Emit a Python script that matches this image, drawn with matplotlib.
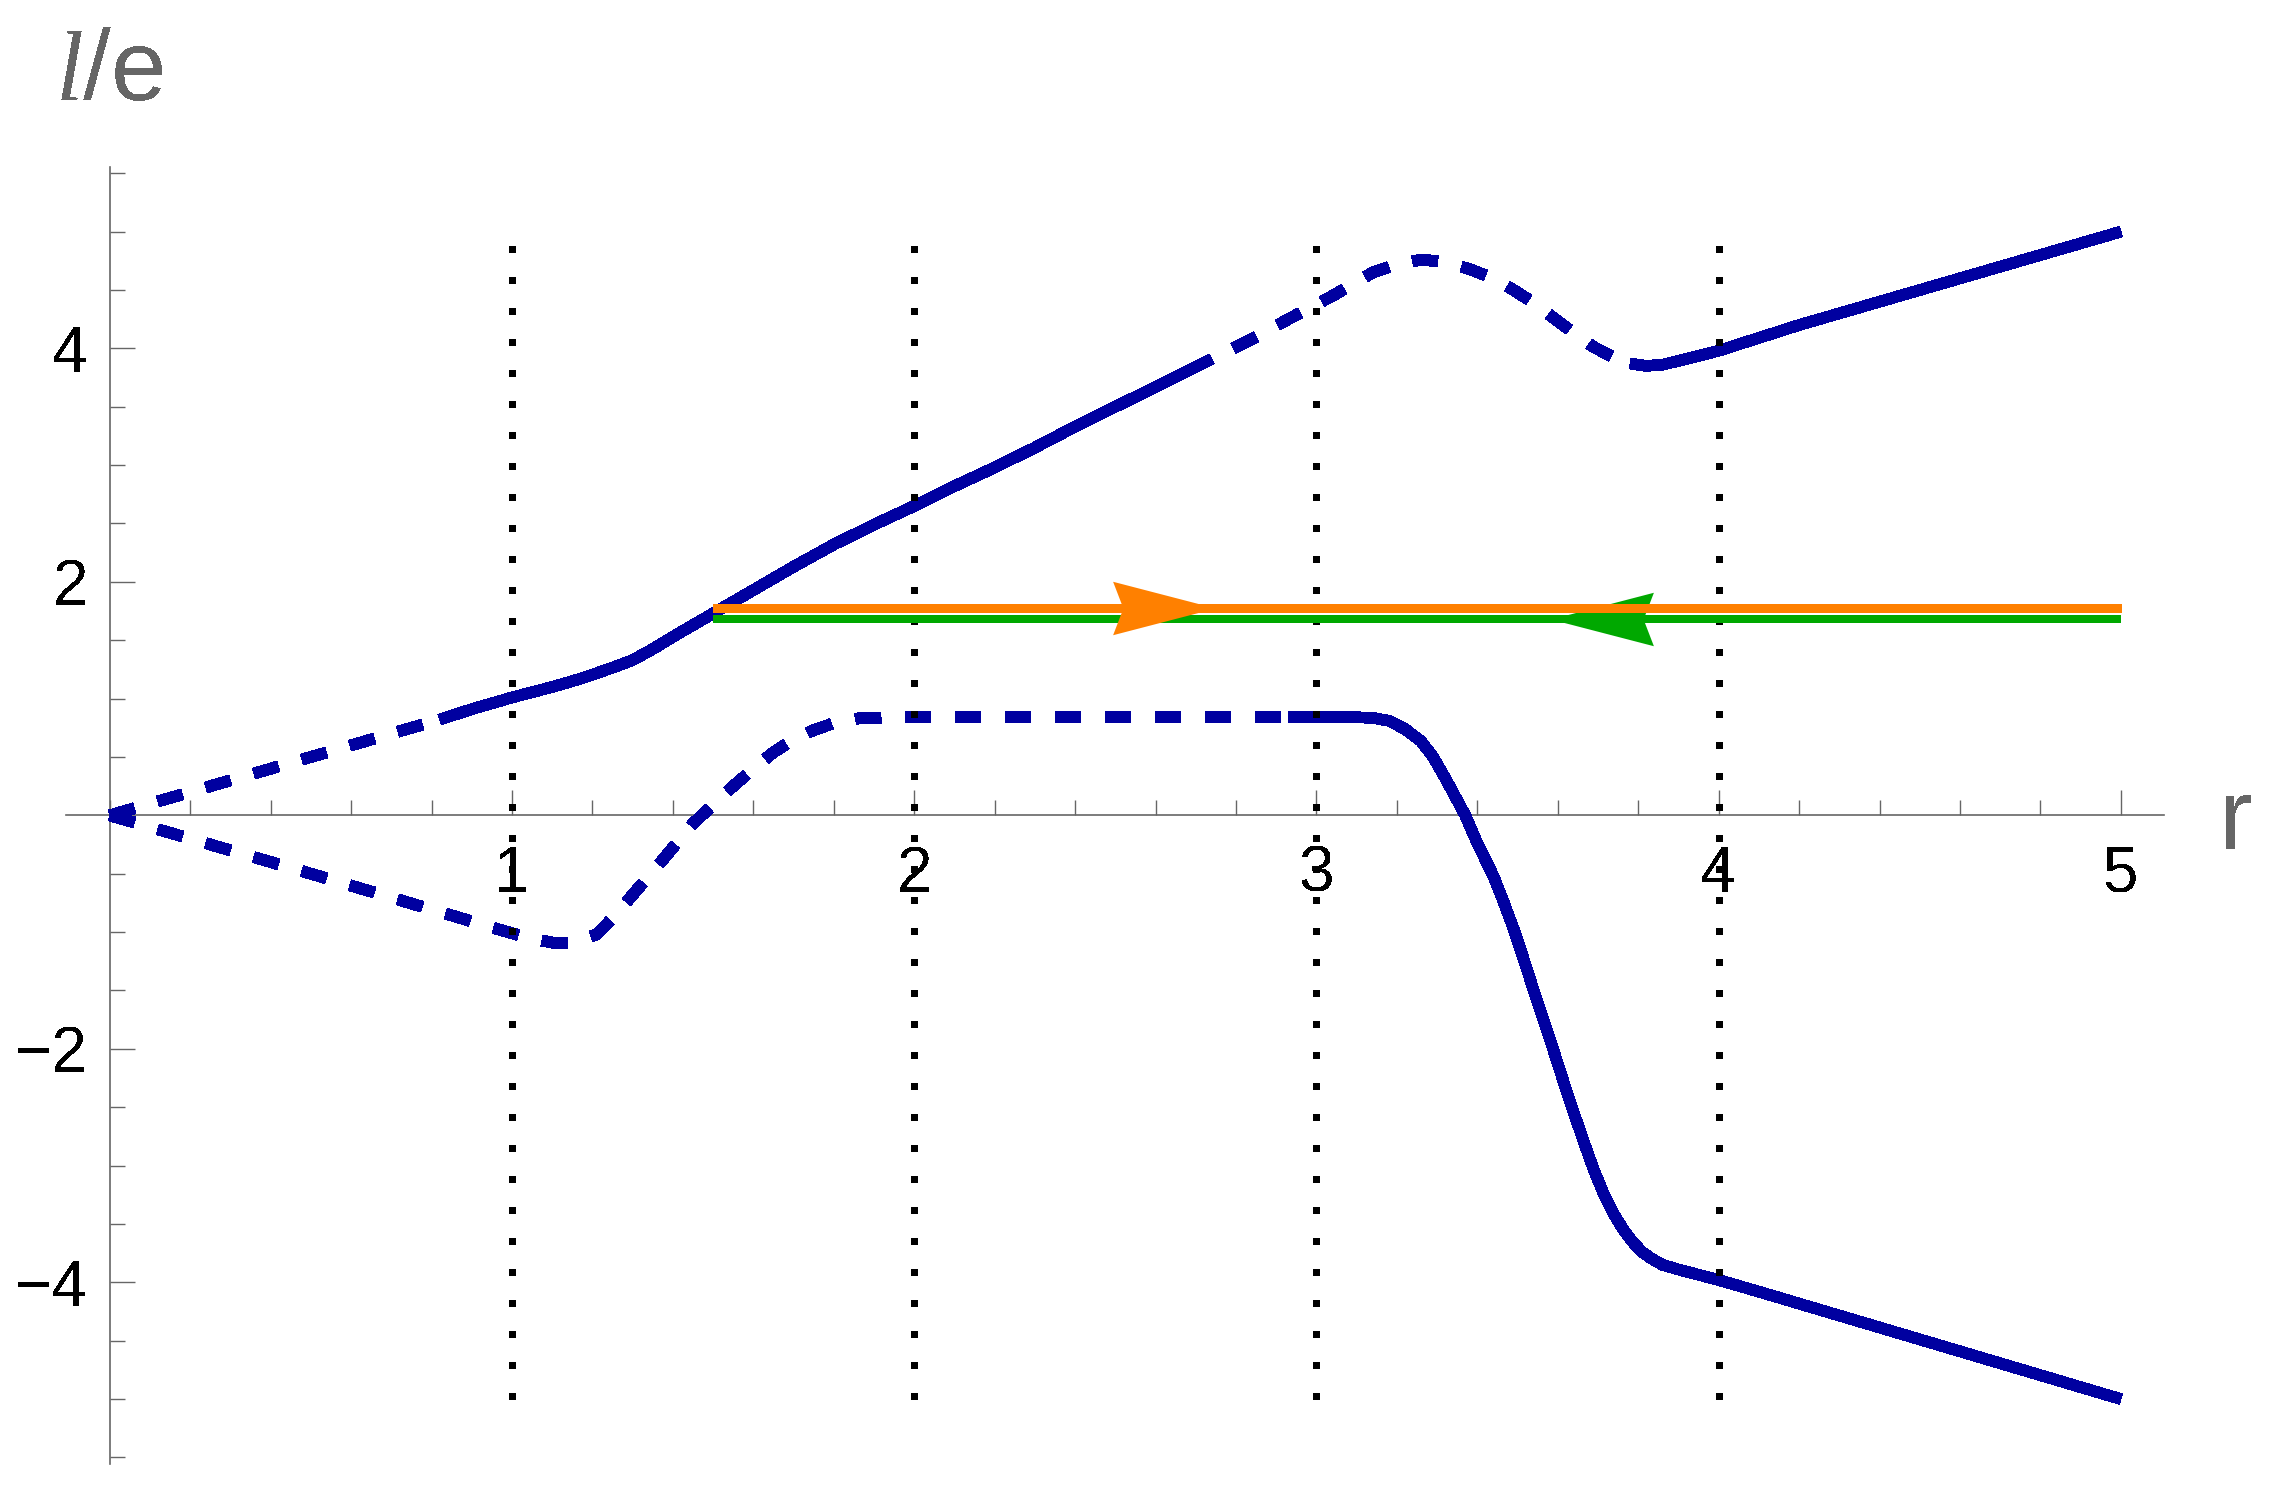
import matplotlib
matplotlib.use("Agg")
import matplotlib.pyplot as plt
from matplotlib.path import Path
from matplotlib.ticker import FixedLocator, MultipleLocator

plt.rcParams['font.family'] = ['Liberation Sans', 'DejaVu Sans']
plt.rcParams['mathtext.fontset'] = 'custom'
plt.rcParams['mathtext.it'] = 'Liberation Serif:italic'
plt.rcParams['mathtext.rm'] = 'Liberation Sans'
plt.rcParams['text.antialiased'] = False

# upper branch (dashed / solid pieces)
up_dash1_x = [0.0, 0.41, 0.82]
up_dash1_y = [0.0, 0.41, 0.82]
up_solid1_x = [0.82, 0.9, 1.0, 1.1, 1.17, 1.25, 1.3, 1.35, 1.42, 1.5, 1.6, 1.7,
               1.8, 1.9, 2.0, 2.1, 2.2, 2.3, 2.4, 2.5, 2.6, 2.74]
up_solid1_y = [0.82, 0.91, 1.01, 1.10, 1.17, 1.265, 1.33, 1.425, 1.57, 1.73,
               1.93, 2.13, 2.32, 2.49, 2.65, 2.82, 2.98, 3.15, 3.33, 3.50, 3.67,
               3.91]
up_dash2_x = [2.74, 2.84, 2.93, 3.04, 3.14, 3.20, 3.26, 3.32, 3.38, 3.44, 3.49,
              3.54, 3.59, 3.64, 3.69, 3.74, 3.78]
up_dash2_y = [3.91, 4.08, 4.25, 4.45, 4.65, 4.72, 4.76, 4.74, 4.68, 4.60, 4.50,
              4.39, 4.26, 4.13, 4.01, 3.92, 3.87]
up_solid2_x = [3.78, 3.82, 3.86, 3.92, 4.0, 4.2, 5.0]
up_solid2_y = [3.87, 3.85, 3.86, 3.91, 3.98, 4.2, 5.0]

# lower branch
lo_dash_x = [0.0, 0.5, 0.97, 1.04, 1.1, 1.14, 1.17, 1.21, 1.25, 1.29, 1.37,
             1.45, 1.54, 1.6, 1.65, 1.7, 1.75, 1.8, 1.86, 1.95, 2.93]
lo_dash_y = [0.0, -0.5, -0.98, -1.05, -1.09, -1.09, -1.07, -1.02, -0.88, -0.72,
             -0.40, -0.07, 0.22, 0.40, 0.54, 0.65, 0.73, 0.79, 0.83, 0.84, 0.84]
lo_solid_x = [2.93, 3.1, 3.14, 3.18, 3.22, 3.26, 3.29, 3.32, 3.37, 3.40, 3.44,
              3.465, 3.49, 3.515, 3.54, 3.565, 3.59, 3.615, 3.64, 3.665, 3.69,
              3.715, 3.74, 3.765, 3.79, 3.81, 3.83, 3.86, 3.9, 4.0, 4.1, 5.0]
lo_solid_y = [0.84, 0.84, 0.835, 0.81, 0.74, 0.635, 0.50, 0.32, 0.0, -0.24,
              -0.52, -0.74, -0.97, -1.23, -1.50, -1.76, -2.02, -2.29, -2.55,
              -2.80, -3.04, -3.25, -3.42, -3.56, -3.67, -3.74, -3.79, -3.85,
              -3.89, -3.98, -4.08, -5.0]

# horizontal levels and their arrows
orange_y = 1.78
green_y = 1.68
level_x = [1.5, 5.0]
orange_arrow_x = 2.62
green_arrow_x = 3.71

# dotted guides
guide_x = [1, 2, 3, 4]
guide_y = [-5, 5]

xticks = [1, 2, 3, 4, 5]
yticks = [-4, -2, 2, 4]

blue = '#0000A0'
orange = '#FF8000'
green = '#00A800'
gray = '#666666'

fig = plt.figure(figsize=(11.37, 7.49), dpi=200)
ax = fig.add_axes([0.0292, 0.0227, 0.9224, 0.866])
ax.set_xlim(-0.108, 5.107)
ax.set_ylim(-5.556, 5.556)

for s in ['top', 'right']:
    ax.spines[s].set_visible(False)
for s in ['left', 'bottom']:
    ax.spines[s].set_position(('data', 0))
    ax.spines[s].set_color(gray)
    ax.spines[s].set_linewidth(0.6)

ax.xaxis.set_major_locator(FixedLocator(xticks))
ax.xaxis.set_minor_locator(MultipleLocator(0.2))
ax.yaxis.set_major_locator(FixedLocator(yticks))
ax.yaxis.set_minor_locator(MultipleLocator(0.5))
ax.tick_params(which='both', direction='in', color=gray, width=0.5,
               labelsize=23, labelcolor='black')
ax.tick_params(which='major', length=9)
ax.tick_params(which='minor', length=5.4)
ax.tick_params(axis='x', which='major', pad=10.5)
ax.tick_params(axis='y', which='major', pad=7.9)

lw_blue = 3.9
dash = (0, (2.4, 2.3))
dash_gap_first = (2.4, (2.4, 2.3))
for xs, ys, ls in [(up_dash1_x, up_dash1_y, dash),
                   (up_solid1_x, up_solid1_y, '-'),
                   (up_dash2_x, up_dash2_y, dash_gap_first),
                   (up_solid2_x, up_solid2_y, '-'),
                   (lo_dash_x, lo_dash_y, dash),
                   (lo_solid_x, lo_solid_y, '-')]:
    ax.plot(xs, ys, color=blue, lw=lw_blue, linestyle=ls,
            solid_capstyle='butt', dash_capstyle='butt',
            solid_joinstyle='round', antialiased=False, zorder=3)

for gx in guide_x:
    ax.plot([gx, gx], guide_y, color='black', lw=2.4,
            linestyle=(0, (1, 3.6)), dash_capstyle='butt',
            antialiased=False, zorder=4)

# arrowhead marker with a slightly notched back
hh = 0.52
head = Path([(1, 0), (-1, hh), (-0.8, 0), (-1, -hh), (1, 0)],
            [Path.MOVETO, Path.LINETO, Path.LINETO, Path.LINETO, Path.CLOSEPOLY])
head_left = Path([(-1, 0), (1, hh), (0.8, 0), (1, -hh), (-1, 0)],
                 [Path.MOVETO, Path.LINETO, Path.LINETO, Path.LINETO, Path.CLOSEPOLY])
head_size = 37

ax.plot(level_x, [green_y, green_y], color=green, lw=2.8,
        solid_capstyle='butt', antialiased=False, zorder=5)
ax.plot([green_arrow_x], [green_y], marker=head_left, markersize=head_size,
        color=green, markeredgewidth=0, linestyle='none', zorder=5)
ax.plot(level_x, [orange_y, orange_y], color=orange, lw=2.65,
        solid_capstyle='butt', antialiased=False, zorder=6)
ax.plot([orange_arrow_x], [orange_y], marker=head, markersize=head_size,
        color=orange, markeredgewidth=0, linestyle='none', zorder=6)

fig.text(0.0242, 0.9332, r'$\mathit{l}$/e', fontsize=36, color=gray,
         ha='left', va='baseline')
fig.text(0.9758, 0.4332, 'r', fontsize=36, color=gray,
         ha='left', va='baseline')

fig.savefig('out.png', dpi=200)
